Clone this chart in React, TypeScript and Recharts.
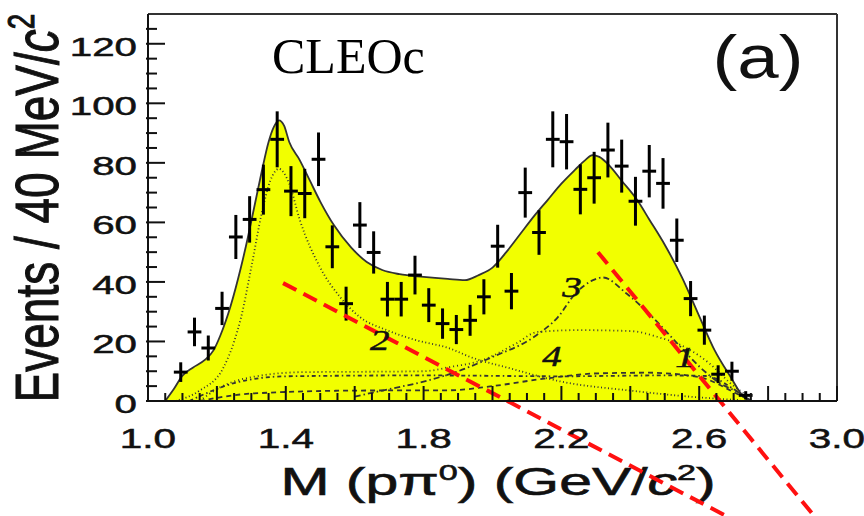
import React from 'react';
import {
  ComposedChart,
  XAxis,
  YAxis,
  Area,
  Line,
  Scatter,
  ErrorBar,
  ReferenceLine,
  ReferenceDot,
  Customized,
} from 'recharts';

// measured p pi0 invariant mass spectrum, 40 MeV bins
const binCenters = [
  1.095, 1.135, 1.175, 1.215, 1.255, 1.295, 1.335, 1.375, 1.415, 1.455, 1.495,
  1.535, 1.575, 1.615, 1.655, 1.695, 1.735, 1.775, 1.815, 1.855, 1.895, 1.935,
  1.975, 2.015, 2.055, 2.095, 2.135, 2.175, 2.215, 2.255, 2.295, 2.335, 2.375,
  2.415, 2.455, 2.495, 2.535, 2.575, 2.615, 2.655, 2.695, 2.735,
];
const counts = [
  9.7, 23.2, 17.8, 31.1, 55.1, 61, 71, 87.9, 70.5, 69.7, 81.2,
  51.8, 32.7, 59.1, 49.9, 34.2, 34.2, 42.3, 32.2, 26, 24, 27.1,
  35, 52, 36.9, 70, 56.6, 87.9, 87.1, 71.1, 75, 84.3, 78.9,
  67.1, 77.2, 73.1, 54, 34.4, 23.8, 9, 10, 1.9,
];
const countErrors = [
  3.3, 4.8, 4.2, 5.6, 7.4, 7.8, 8.4, 9.4, 8.4, 8.3, 9.0,
  7.2, 5.7, 7.7, 7.1, 5.8, 5.8, 6.5, 5.7, 5.1, 4.9, 5.2,
  5.9, 7.2, 6.1, 8.4, 7.5, 9.4, 9.3, 8.4, 8.7, 9.2, 8.9,
  8.2, 8.8, 8.5, 7.3, 5.9, 4.9, 3.0, 3.2, 1.4,
];
const binHalfWidth = 0.02;

// total fit
const fitMass = [
  1.05, 1.075, 1.1, 1.13, 1.165, 1.19, 1.21, 1.24, 1.27, 1.29, 1.31, 1.33, 1.35,
  1.365, 1.38, 1.395, 1.41, 1.44, 1.47, 1.5, 1.54, 1.59, 1.635, 1.68, 1.73,
  1.8, 1.87, 1.92, 1.96, 2.0, 2.04, 2.08, 2.12, 2.16, 2.2, 2.24, 2.27, 2.29,
  2.31, 2.34, 2.375, 2.42, 2.455, 2.5, 2.55, 2.6, 2.645, 2.69, 2.73, 2.75,
];
const fitTotal = [
  0, 4, 8.5, 11.2, 13.8, 17, 22, 32, 45, 55, 66, 77, 87,
  92, 94.3, 92.5, 87, 81, 74, 67, 59, 51.5, 46.7, 44, 42.6,
  41.7, 41, 40.6, 42.3, 44.8, 50, 56, 62, 67.5, 73, 77.7, 81, 82.6,
  82, 79, 74, 67.5, 61, 52.5, 41.5, 28.5, 17, 8.3, 1.3, 0,
];

// fit components
const comp1Mass = [1.15, 1.2, 1.3, 1.45, 1.6, 1.8, 1.876, 1.97, 2.07, 2.13, 2.25, 2.4, 2.48, 2.56, 2.63, 2.69, 2.74, 2.75];
const comp1 = [0, 4, 8, 9.7, 9.8, 10, 11.4, 13.7, 19.4, 23.2, 23.8, 23.5, 21.5, 18, 12.6, 6, 1.3, 0];

const comp2Mass = [1.08, 1.15, 1.218, 1.25, 1.27, 1.3, 1.33, 1.355, 1.38, 1.41, 1.441, 1.499, 1.557, 1.615, 1.693, 1.78, 1.877, 1.935, 2.05, 2.2, 2.4, 2.6, 2.72];
const comp2 = [0, 3.5, 11, 20, 28, 45, 63, 74, 78, 73, 60.7, 45, 35, 28.2, 23.8, 20.4, 17.6, 14.8, 11, 6.5, 3.5, 1.2, 0.3];

const comp3Mass = [1.6, 1.7, 1.8, 1.9, 2.0, 2.12, 2.19, 2.24, 2.29, 2.32, 2.39, 2.466, 2.536, 2.602, 2.66, 2.718, 2.75];
const comp3 = [1.5, 4, 6.5, 10, 14.8, 21.5, 28.2, 36, 40.5, 41.5, 36, 28, 19.4, 11.4, 6, 2.6, 0];

const comp4Mass = [1.15, 1.3, 1.6, 1.876, 2.0, 2.15, 2.31, 2.45, 2.6, 2.7, 2.75];
const comp4 = [0, 2.5, 3.5, 3.6, 5, 7.5, 9.3, 9.5, 8, 3, 0];

const bkgMass = [1.12, 1.25, 1.4, 1.8, 2.2, 2.5, 2.62, 2.7, 2.75];
const bkg = [0, 6, 8.3, 8.6, 8.3, 8.6, 8.4, 4, 0];

const xLabels = [1.0, 1.4, 1.8, 2.2, 2.6, 3.0];
const yLabels = [0, 20, 40, 60, 80, 100, 120];

const xTicks = Array.from({ length: 41 }, (_, i) => +(1 + i * 0.05).toFixed(2));
const yTicks = Array.from({ length: 26 }, (_, i) => i * 5);

const toRows = (xs: number[], ys: number[]) => xs.map((x, i) => ({ x, y: ys[i] }));

const points = binCenters.map((x, i) => ({
  x,
  y: counts[i],
  err: countErrors[i],
  xErr: binHalfWidth,
}));

const SANS = '"Liberation Sans", Arial, Helvetica, sans-serif';
const SERIF = '"Liberation Serif", "Times New Roman", serif';
const INK = '#111';

const XTick = (props: any) => {
  const { x, y, payload } = props;
  const v = +payload.value;
  const major = Math.abs(v * 5 - Math.round(v * 5)) < 1e-6;
  const labelled = xLabels.some((l) => Math.abs(l - v) < 1e-6);
  return (
    <g>
      <line x1={x} x2={x} y1={y} y2={y - (major ? 15 : 8)} stroke={INK} strokeWidth={2} />
      {labelled && (
        <text
          transform={`translate(${x},${y + 47}) scale(1.5,1)`}
          textAnchor="middle"
          fontSize={27}
          fontFamily={SANS}
          fill={INK}
          stroke={INK}
          strokeWidth={0.5}
        >
          {v.toFixed(1)}
        </text>
      )}
    </g>
  );
};

const YTick = (props: any) => {
  const { x, y, payload } = props;
  const v = +payload.value;
  const major = v % 20 === 0;
  const labelled = yLabels.includes(v);
  return (
    <g>
      <line x1={x - 2} x2={x + (major ? 17 : 9)} y1={y} y2={y} stroke={INK} strokeWidth={2} />
      {labelled && (
        <text
          transform={`translate(${x - 11},${y + 12}) scale(1.55,1)`}
          textAnchor="end"
          fontSize={26}
          fontFamily={SANS}
          fill={INK}
          stroke={INK}
          strokeWidth={0.5}
        >
          {v}
        </text>
      )}
    </g>
  );
};

const CurveTag = (props: any) => {
  const { viewBox, tag } = props;
  const cx = viewBox.x + (viewBox.width || 0) / 2;
  const cy = viewBox.y + (viewBox.height || 0) / 2;
  return (
    <text
      transform={`translate(${cx},${cy + 10}) scale(1.3,1)`}
      textAnchor="middle"
      fontSize={30}
      fontStyle="italic"
      fontFamily={SERIF}
      fill={INK}
      stroke={INK}
      strokeWidth={0.5}
    >
      {tag}
    </text>
  );
};

const NoMarker = () => <g />;

const Titles = () => (
  <g>
    <text
      transform="translate(58,208) rotate(-90) scale(1,1.32)"
      textAnchor="middle"
      fontSize={46}
      fontFamily={SANS}
      fill={INK}
      stroke={INK}
      strokeWidth={0.8}
    >
      Events / 40 MeV/<tspan fontStyle="italic">c</tspan>
      <tspan fontSize={28} dy={-18}>2</tspan>
    </text>
    <text
      transform="translate(498,495) scale(1.55,1)"
      textAnchor="middle"
      fontSize={38}
      fontFamily={SANS}
      fill={INK}
      stroke={INK}
      strokeWidth={0.6}
    >
      M (pπ<tspan fontSize={22} dy={-15}>0</tspan>
      <tspan dy={15}>) (GeV/</tspan>
      <tspan fontStyle="italic">c</tspan>
      <tspan fontSize={22} dy={-15}>2</tspan>
      <tspan dy={15}>)</tspan>
    </text>
    <text x={272} y={73} fontSize={50} fontFamily={SERIF} fill="#000">
      CLEOc
    </text>
    <text
      transform="translate(758,78) scale(1.2,1)"
      textAnchor="middle"
      fontSize={62}
      fontFamily={SANS}
      fill={INK}
    >
      (a)
    </text>
  </g>
);

export default function App() {
  return (
    <div style={{ position: 'absolute', left: 0, top: 0, width: 864, height: 516, background: '#fff' }}>
      <ComposedChart width={864} height={516} margin={{ top: 14, right: 27, bottom: 0, left: 0 }}>
        <Area
          data={toRows(fitMass, fitTotal)}
          dataKey="y"
          type="monotone"
          baseValue={0}
          fill="#f2ff00"
          fillOpacity={1}
          stroke="#333"
          strokeWidth={1.8}
          isAnimationActive={false}
        />
        <Line data={toRows(comp1Mass, comp1)} dataKey="y" type="monotone" stroke="#333" strokeWidth={1.8} strokeDasharray="1 3" dot={false} isAnimationActive={false} />
        <Line data={toRows(comp2Mass, comp2)} dataKey="y" type="monotone" stroke="#333" strokeWidth={1.8} strokeDasharray="1 2.5" dot={false} isAnimationActive={false} />
        <Line data={toRows(comp3Mass, comp3)} dataKey="y" type="monotone" stroke="#333" strokeWidth={1.8} strokeDasharray="6 3 1.5 3" dot={false} isAnimationActive={false} />
        <Line data={toRows(comp4Mass, comp4)} dataKey="y" type="monotone" stroke="#333" strokeWidth={1.8} strokeDasharray="5 4" dot={false} isAnimationActive={false} />
        <Line data={toRows(bkgMass, bkg)} dataKey="y" type="monotone" stroke="#333" strokeWidth={1.8} strokeDasharray="4 3 1.5 3" dot={false} isAnimationActive={false} />
        <Scatter data={points} dataKey="y" shape={<NoMarker />} isAnimationActive={false}>
          <ErrorBar dataKey="err" direction="y" width={0} stroke="#000" strokeWidth={3} />
          <ErrorBar dataKey="xErr" direction="x" width={0} stroke="#000" strokeWidth={3} />
        </Scatter>
        <XAxis
          type="number"
          dataKey="x"
          domain={[1, 3]}
          ticks={xTicks}
          interval={0}
          tickSize={0}
          tickMargin={0}
          tick={<XTick />}
          axisLine={{ stroke: INK, strokeWidth: 2 }}
          height={115}
          allowDataOverflow
        />
        <YAxis
          type="number"
          dataKey="y"
          domain={[0, 130]}
          ticks={yTicks}
          interval={0}
          tickSize={0}
          tickMargin={0}
          tick={<YTick />}
          axisLine={{ stroke: INK, strokeWidth: 2 }}
          width={148}
          allowDataOverflow
        />
        <ReferenceLine y={130} stroke="#333" strokeWidth={2} />
        <ReferenceLine x={3} stroke="#333" strokeWidth={2} />
        <ReferenceDot x={1.673} y={20.4} r={0} fill="none" stroke="none" label={<CurveTag tag="2" />} />
        <ReferenceDot x={2.231} y={38.2} r={0} fill="none" stroke="none" label={<CurveTag tag="3" />} />
        <ReferenceDot x={2.173} y={15} r={0} fill="none" stroke="none" label={<CurveTag tag="4" />} />
        <ReferenceDot x={2.559} y={14.7} r={0} fill="none" stroke="none" label={<CurveTag tag="1" />} />
        <Customized component={Titles} />
        <ReferenceLine
          segment={[{ x: 1.392, y: 39.6 }, { x: 2.681, y: -38.8 }]}
          ifOverflow="visible"
          stroke="#ff1010"
          strokeWidth={4}
          strokeDasharray="15 8"
        />
        <ReferenceLine
          segment={[{ x: 2.306, y: 50 }, { x: 2.935, y: -38.8 }]}
          ifOverflow="visible"
          stroke="#ff1010"
          strokeWidth={4}
          strokeDasharray="15 8"
        />
      </ComposedChart>
    </div>
  );
}
